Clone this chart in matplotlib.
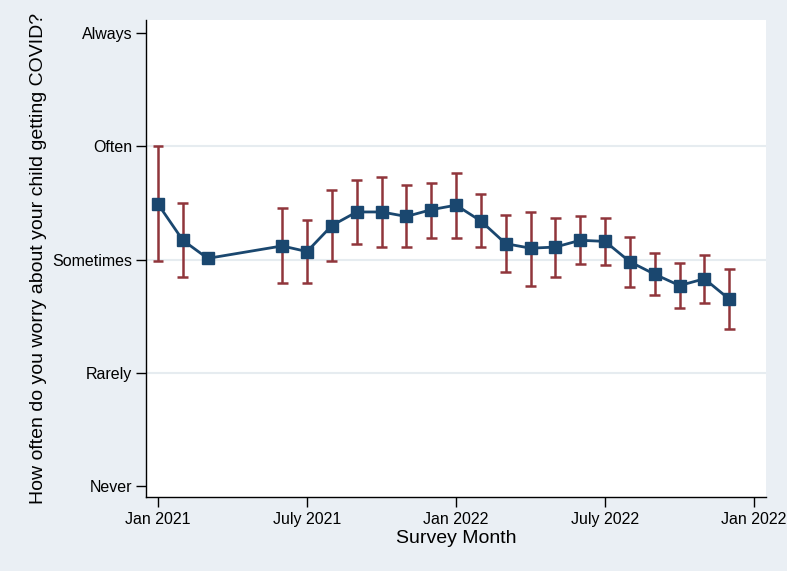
import matplotlib
matplotlib.use("Agg")
import matplotlib.pyplot as plt

# months since Jan 2021
months = [0, 1, 2, 5, 6, 7, 8, 9, 10, 11, 12, 13, 14, 15, 16, 17, 18, 19, 20, 21, 22, 23]
mean = [3.49, 3.17, 3.01, 3.12, 3.07, 3.30, 3.42, 3.42, 3.38, 3.44, 3.48, 3.34,
        3.14, 3.10, 3.11, 3.17, 3.16, 2.98, 2.87, 2.77, 2.83, 2.65]
upper = [4.00, 3.50, 3.01, 3.455, 3.35, 3.61, 3.70, 3.73, 3.66, 3.68, 3.76, 3.58,
         3.39, 3.42, 3.37, 3.38, 3.37, 3.20, 3.06, 2.97, 3.04, 2.92]
lower = [2.99, 2.85, 3.01, 2.79, 2.79, 2.99, 3.14, 3.11, 3.11, 3.19, 3.19, 3.11,
         2.89, 2.77, 2.85, 2.96, 2.95, 2.76, 2.69, 2.57, 2.62, 2.39]

y_ticks = [1, 2, 3, 4, 5]
y_labels = ['Never', 'Rarely', 'Sometimes', 'Often', 'Always']
x_ticks = [0, 6, 12, 18, 24]
x_labels = ['Jan 2021', 'July 2021', 'Jan 2022', 'July 2022', 'Jan 2022']

bg = '#eaeff4'
navy = '#1a476f'
maroon = '#90353b'

plt.rcParams['font.family'] = ['Liberation Sans', 'DejaVu Sans']

fig = plt.figure(figsize=(7.87, 5.71), dpi=100, facecolor=bg)
ax = fig.add_axes([146 / 787, 74 / 571, 620 / 787, 477 / 571])
ax.set_facecolor('white')

for g in [2, 3, 4]:
    ax.axhline(g, color='#e6ecf0', lw=1.5, zorder=0)

# error bars (skip the one without an interval)
err_x = [m for m, u, l in zip(months, upper, lower) if u != l]
err_lo = [l for m, u, l in zip(months, upper, lower) if u != l]
err_hi = [u for m, u, l in zip(months, upper, lower) if u != l]
ax.vlines(err_x, err_lo, err_hi, color=maroon, lw=1.8, zorder=2)
ax.hlines(err_lo, [x - 0.22 for x in err_x], [x + 0.22 for x in err_x], color=maroon, lw=1.8, zorder=2)
ax.hlines(err_hi, [x - 0.22 for x in err_x], [x + 0.22 for x in err_x], color=maroon, lw=1.8, zorder=2)

ax.plot(months, mean, color=navy, lw=2, marker='s', markersize=9,
        markerfacecolor=navy, markeredgecolor=navy, zorder=3)

ax.set_xlim(-0.483, 24.48)
ax.set_ylim(0.903, 5.115)
ax.set_yticks(y_ticks)
ax.set_yticklabels(y_labels, fontsize=11.5)
ax.set_xticks(x_ticks)
ax.set_xticklabels(x_labels, fontsize=11.5)
ax.tick_params(axis='both', direction='out', length=7, width=1, color='black')
ax.tick_params(axis='y', pad=3)
ax.tick_params(axis='x', pad=4)

for side in ['top', 'right']:
    ax.spines[side].set_visible(False)
ax.spines['left'].set_linewidth(1)
ax.spines['bottom'].set_linewidth(1)

ax.set_xlabel('Survey Month', fontsize=14, labelpad=2)
ax.set_ylabel('How often do you worry about your child getting COVID?', fontsize=14, labelpad=4)

fig.savefig('out.png', dpi=100, facecolor=bg)
